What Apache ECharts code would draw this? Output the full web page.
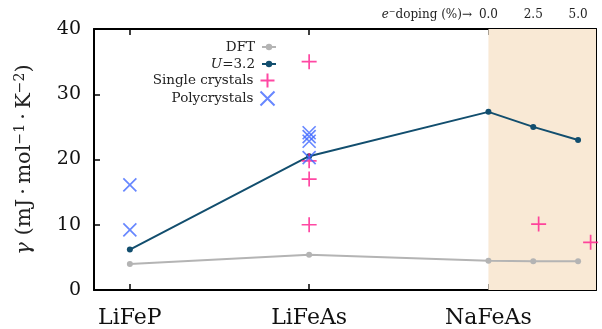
<!DOCTYPE html>
<html><head><meta charset="utf-8">
<script src="https://cdn.jsdelivr.net/npm/echarts@6/dist/echarts.min.js"></script>
<style>html,body{margin:0;padding:0;background:#fff}#c{width:602px;height:329px}</style>
</head><body><div id="c"></div>
<script>
// categories and positions on the x scale
const compounds = ['LiFeP', 'LiFeAs', 'NaFeAs'];
const compoundX = [0, 1, 2];
const dopingTicks = [0.0, 2.5, 5.0];       // e- doping (%) of NaFeAs
const dopingLabels = ['0.0', '2.5', '5.0'];
// calculated series: LiFeP, LiFeAs, NaFeAs(0%), NaFeAs(2.5%), NaFeAs(5%)
const dftValues = [4.0, 5.4, 4.5, 4.4, 4.4];
const uValues = [6.2, 20.5, 27.3, 25.0, 23.0];
// experiments
const singleCompound = ['LiFeAs', 'LiFeAs', 'LiFeAs', 'LiFeAs'];
const singleValues = [35.0, 19.8, 17.0, 10.0];
const singleDopedPct = [2.8, 5.7];
const singleDopedValues = [10.1, 7.3];
const polyCompound = ['LiFeP', 'LiFeP', 'LiFeAs', 'LiFeAs', 'LiFeAs', 'LiFeAs'];
const polyValues = [16.1, 9.2, 24.1, 23.5, 22.8, 20.3];
const yTicks = [0, 10, 20, 30, 40];

const dopX = d => 2 + d / 10;
const calcX = compoundX.concat([dopX(2.5), dopX(5.0)]);
const cIdx = n => compoundX[compounds.indexOf(n)];

const FONT = 'DejaVu Serif';
const PINK = '#ff1a8c', BLUE = '#4169ff', GRAY = '#b4b4b4', DARK = '#124e6e';
const plusPath = 'path://M0,7L14,7M7,0L7,14';
const crossPath = 'path://M0,0L14,14M14,0L0,14';

const singleData = singleCompound.map((n, i) => [cIdx(n), singleValues[i]])
  .concat(singleDopedPct.map((d, i) => [dopX(d), singleDopedValues[i]]));
const polyData = polyCompound.map((n, i) => [cIdx(n), polyValues[i]]);

function legendFor(name, icon, top) {
  return {
    data: [icon ? {name, icon} : {name}], right: 325, top, align: 'right', orient: 'vertical',
    itemWidth: 14, itemHeight: icon ? 14 : 8, itemGap: 0, padding: 0,
    textStyle: {fontFamily: FONT, fontSize: 13.5, color: '#222', padding: [0, 2, 0, 0],
      rich: {i: {fontFamily: FONT, fontStyle: 'italic', fontSize: 13.5, color: '#222'}}},
    formatter: n => n === 'U=3.2' ? '{i|U}=3.2' : n,
    selectedMode: false
  };
}

const chart = echarts.init(document.getElementById('c'), null, {renderer: 'canvas'});
const tickStyle = {width: 1.5, color: '#000'};
const axisCommon = {
  type: 'value', min: -0.2, max: 2.6,
  axisLine: {show: true, onZero: false, lineStyle: {color: '#000', width: 2}},
  splitLine: {show: false}
};
const T = '\u2009';
chart.setOption({
  animation: false,
  grid: {left: 94, right: 6, top: 29, bottom: 39},
  xAxis: [
    Object.assign({}, axisCommon, {
      position: 'bottom',
      axisTick: {show: true, inside: true, length: 6, lineStyle: tickStyle,
        customValues: calcX},
      axisLabel: {customValues: compoundX, formatter: v => compounds[compoundX.indexOf(Math.round(v))],
        fontFamily: FONT, fontSize: 22, color: '#111', margin: 17}
    }),
    Object.assign({}, axisCommon, {
      position: 'top',
      axisTick: {show: true, inside: true, length: 6, lineStyle: tickStyle,
        customValues: calcX},
      axisLabel: {customValues: dopingTicks.map(dopX),
        formatter: v => dopingLabels[dopingTicks.map(dopX).findIndex(t => Math.abs(t - v) < 1e-6)],
        fontFamily: FONT, fontSize: 12, color: '#222', margin: 8}
    })
  ],
  yAxis: [
    {type: 'value', min: 0, max: 40, interval: 10, position: 'left',
      axisLine: {show: true, onZero: false, lineStyle: {color: '#000', width: 2}},
      axisTick: {show: true, inside: true, length: 6, lineStyle: tickStyle},
      splitLine: {show: false},
      axisLabel: {fontFamily: FONT, fontSize: 19, color: '#111', margin: 13},
      name: '{g|γ} (mJ' + T + '·' + T + 'mol{s|−1}' + T + '·' + T + 'K{s|−2})', nameLocation: 'middle', nameGap: 58,
      nameTextStyle: {fontFamily: FONT, fontSize: 21, color: '#222',
        rich: {g: {fontFamily: FONT, fontStyle: 'italic', fontSize: 21, color: '#222'},
               s: {fontFamily: FONT, fontSize: 14, color: '#222', verticalAlign: 'top', padding: [0, 0, 9, 0]}}}},
    {type: 'value', min: 0, max: 40, interval: 10, position: 'right',
      axisLine: {show: true, onZero: false, lineStyle: {color: '#000', width: 2}},
      axisTick: {show: true, inside: true, length: 6, lineStyle: tickStyle},
      splitLine: {show: false}, axisLabel: {show: false}}
  ],
  legend: [
    legendFor('DFT', null, 40),
    legendFor('U=3.2', null, 57),
    legendFor('Single crystals', plusPath, 71),
    legendFor('Polycrystals', crossPath, 89)
  ],
  graphic: [{type: 'text', right: 130, top: 8, z: 10,
    style: {text: '{i|e}{s|−}doping (%)→', fill: '#222', font: '12px "' + FONT + '"',
      rich: {i: {fontStyle: 'italic', fontFamily: FONT, fontSize: 12, fill: '#222'},
             s: {fontFamily: FONT, fontSize: 8, verticalAlign: 'top', padding: [0, 0, 6, 0], fill: '#222'}}}}],
  series: [
    {type: 'line', name: 'shade', data: [], silent: true, z: 0,
      markArea: {silent: true, itemStyle: {color: '#f9e9d5'}, data: [[{xAxis: 2}, {xAxis: 2.6}]]}},
    {type: 'line', name: 'DFT', data: calcX.map((x, i) => [x, dftValues[i]]),
      symbol: 'circle', symbolSize: 6, color: GRAY, lineStyle: {width: 2, color: GRAY}, z: 2},
    {type: 'line', name: 'U=3.2', data: calcX.map((x, i) => [x, uValues[i]]),
      symbol: 'circle', symbolSize: 6, color: DARK, lineStyle: {width: 2, color: DARK}, z: 3},
    {type: 'scatter', name: 'Single crystals', data: singleData, symbol: plusPath, symbolSize: 15,
      itemStyle: {color: 'none', borderColor: PINK, borderWidth: 1.7}, z: 4},
    {type: 'scatter', name: 'Polycrystals', data: polyData, symbol: crossPath, symbolSize: 13,
      itemStyle: {color: 'none', borderColor: BLUE, borderWidth: 1.7}, z: 5}
  ]
});
</script></body></html>
